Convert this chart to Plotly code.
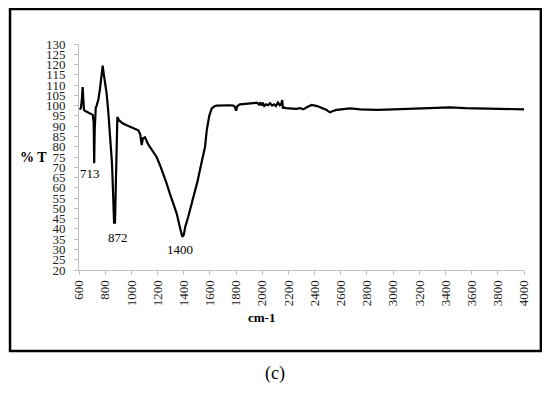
import plotly.graph_objects as go

wavenumber = [606, 615, 622, 628, 632, 638, 645, 660, 675, 684, 695, 705, 712, 716, 720, 728, 735,
              748, 760, 772, 781, 790, 800, 811, 825, 837, 845, 852, 856, 862, 868, 875, 880, 886,
              893, 905, 930, 964, 1000, 1030, 1053, 1068, 1079, 1088, 1104, 1130, 1160, 1193, 1219,
              1250, 1270, 1295, 1320, 1346, 1370, 1389, 1400, 1412, 1435, 1460, 1486, 1505, 1524,
              1550, 1563, 1576, 1595, 1614, 1635, 1652, 1700, 1750, 1779, 1790, 1800, 1810, 1830,
              1880, 1930, 1958, 1975, 1985, 1995, 2005, 2015, 2030, 2045, 2060, 2075, 2090, 2105,
              2120, 2135, 2145, 2153, 2158, 2161, 2180, 2220, 2260, 2290, 2314, 2340, 2378, 2420,
              2460, 2492, 2505, 2518, 2540, 2569, 2620, 2671, 2750, 2820, 2875, 2950, 3053, 3150,
              3250, 3350, 3435, 3550, 3650, 3750, 3850, 3950, 4000]
transmittance = [98, 99, 103, 109, 104, 98, 97.5, 97, 96.8, 96.5, 96, 95.5, 92, 72, 88, 99, 100,
                 103, 108, 115, 119.5, 115, 110, 106, 96, 87, 80, 72, 65, 50, 43, 43, 60, 80,
                 94.5, 93, 91.5, 90.5, 89.5, 88.8, 88, 86, 80.8, 84, 84.6, 81, 78, 75, 71,
                 66, 62, 57, 52, 47.6, 41, 36.2, 37, 41, 46, 52, 57.3, 63, 68.7,
                 76, 80, 88, 95, 98.7, 99.7, 100, 100.2, 100.2, 100, 99.5, 97.5, 99.8, 100.6,
                 100.8, 101.2, 101.4, 100.5, 101.6, 100, 101.4, 99.8, 100.6, 100.2, 101.2, 100, 100.6, 99.8,
                 101.5, 100.2, 100.8, 102.7, 98.5, 99.2, 98.8, 98.6, 98.4, 98.8, 98.2, 99.2, 100.3, 99.8,
                 98.8, 97.9, 97.2, 96.8, 97.4, 97.9, 98.3, 98.7, 98.2, 97.9, 97.9, 98.1, 98.4, 98.6,
                 98.8, 99, 99.2, 98.8, 98.7, 98.5, 98.3, 98.2, 98.2]

peak_positions = [684, 898, 1372]
peak_label_y = [67, 36, 30]
peak_labels = ["713", "872", "1400"]

x_ticks = list(range(600, 4001, 200))
y_ticks = list(range(20, 131, 5))

serif = "Liberation Serif"

fig = go.Figure()
fig.add_trace(go.Scatter(x=wavenumber, y=transmittance, mode="lines",
                         line=dict(color="black", width=2.2), showlegend=False))

for px, py, t in zip(peak_positions, peak_label_y, peak_labels):
    fig.add_annotation(x=px, y=py, text=t, showarrow=False, xref="x", yref="y",
                       xanchor="center", yanchor="middle",
                       font=dict(family=serif, size=13, color="black"))

fig.add_annotation(x=-0.102, y=0.500, xref="paper", yref="paper", text="<b>% T</b>",
                   showarrow=False, xanchor="center", yanchor="middle",
                   font=dict(family=serif, size=14, color="black"))
fig.add_annotation(x=0.411, y=-0.212, xref="paper", yref="paper", text="<b>cm-1</b>",
                   showarrow=False, xanchor="center", yanchor="middle",
                   font=dict(family=serif, size=13, color="black"))
fig.add_annotation(x=0.440, y=-0.456, xref="paper", yref="paper", text="(c)",
                   showarrow=False, xanchor="center", yanchor="middle",
                   font=dict(family=serif, size=18, color="black"))

fig.add_shape(type="rect", xref="paper", yref="paper", x0=-0.155, x1=1.038, y0=-0.358, y1=1.155,
              line=dict(color="black", width=2.5))

fig.update_xaxes(range=[600, 4000], tickvals=x_ticks, ticktext=[str(v) for v in x_ticks],
                 tickangle=-90, showgrid=False, zeroline=False, showline=True, linecolor="#bfbfbf",
                 linewidth=1, ticks="outside", ticklen=4, tickcolor="#bfbfbf",
                 tickfont=dict(family=serif, size=13, color="#222"))
fig.update_yaxes(range=[20, 130], tickvals=y_ticks, ticktext=[str(v) for v in y_ticks],
                 showgrid=False, zeroline=False, showline=True, linecolor="#bfbfbf",
                 linewidth=1, ticks="outside", ticklen=4, tickcolor="#bfbfbf",
                 ticklabelstandoff=6,
                 tickfont=dict(family=serif, size=13, color="#222"))

# page body has an 8px default margin, so the figure is offset by 8px
fig.update_layout(width=542, height=385, margin=dict(l=71, r=26, t=36, b=123),
                  paper_bgcolor="white", plot_bgcolor="white")

fig.write_html("out.html")
